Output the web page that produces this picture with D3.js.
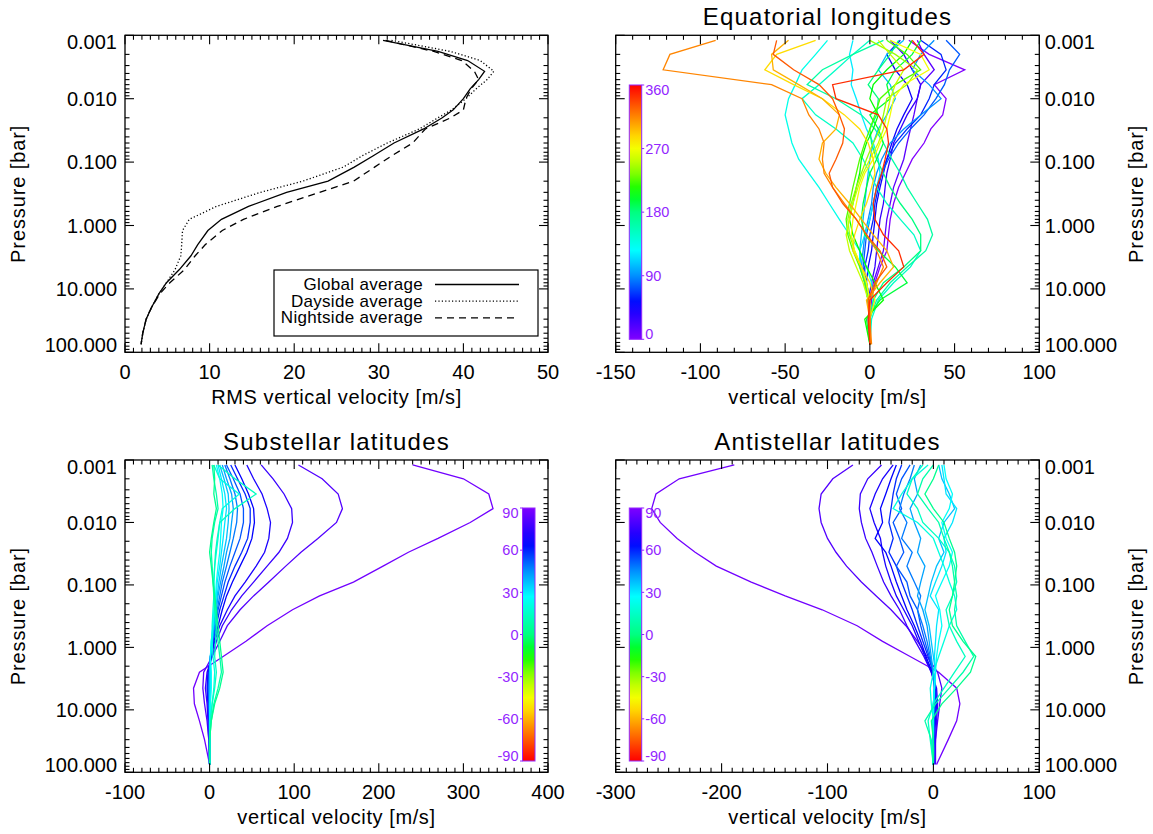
<!DOCTYPE html>
<html>
<head>
<meta charset="utf-8">
<script src="https://cdn.jsdelivr.net/npm/d3@7"></script>
<style>
  body { margin: 0; background: #fff; }
  svg { display: block; font-family: "Liberation Sans", Arial, Helvetica, sans-serif; }
</style>
</head>
<body>
<svg id="chart" width="1153" height="834"></svg>
<script>
// ----------------------------------------------------------
// Data
// ----------------------------------------------------------
const rmsLevels    = [0.0012, 0.0018, 0.0025, 0.0037, 0.005, 0.007, 0.01, 0.015, 0.02, 0.03, 0.05, 0.08, 0.12, 0.2, 0.3, 0.5, 0.8, 1.2, 2, 3, 5, 8, 12, 20, 30, 50, 75];
const globalRms    = [30.5, 37.0, 40.5, 42.5, 41.8, 40.8, 40.0, 38.8, 37.5, 35.3, 31.8, 29.3, 27.1, 24.0, 19.1, 14.6, 11.4, 9.8, 8.6, 7.8, 6.4, 4.9, 4.0, 3.1, 2.5, 2.1, 1.9];
const daysideRms   = [31.5, 38.5, 42.0, 43.6, 42.8, 41.5, 40.3, 38.6, 37.0, 34.8, 31.0, 28.0, 25.8, 21.0, 16.0, 10.8, 7.6, 6.8, 6.7, 6.6, 5.9, 4.9, 4.0, 3.1, 2.5, 2.1, 1.9];
const nightsideRms = [30.8, 36.5, 39.8, 41.3, 41.8, 40.9, 40.3, 40.0, 38.5, 35.5, 34.0, 31.5, 29.5, 27.0, 23.0, 18.0, 14.0, 11.5, 9.5, 8.3, 7.0, 5.3, 4.1, 3.1, 2.5, 2.1, 1.9];
const legendLabels = ["Global average", "Dayside average", "Nightside average"];

// pressure levels shared by the profile panels
const profileLevels = [0.0012, 0.002, 0.0035, 0.006, 0.01, 0.018, 0.03, 0.05, 0.09, 0.15, 0.25, 0.45, 0.8, 1.4, 2.5, 4.5, 8, 15, 30, 75];

const equatorLongitudes = [0, 15, 30, 45, 60, 75, 90, 105, 120, 135, 150, 165, 180, 195, 210, 225, 240, 255, 270, 285, 300, 315, 330, 345];
const equatorProfiles = [
  [23, 35, 56, 38, 45, 43, 36, 32, 25, 21, 17, 14, 12, 11, 10, 6, 3, 1, 0, 0],
  [28, 32, 38, 30, 28, 26, 24, 22, 20, 17, 14, 12, 10, 9, 8, 5, 2, 0, -1, 0],
  [12, 20, 25, 30, 28, 22, 18, 14, 12, 10, 9, 8, 6, 5, 4, 3, 1, -1, 0, 0],
  [18, 10, 15, 22, 25, 20, 16, 13, 10, 8, 6, 4, 3, 2, 1, -1, -2, 0, 0, 0],
  [30, 42, 45, 38, 35, 30, 22, 15, 10, 7, 5, 3, 2, 0, -1, -3, -3, -1, 0, 0],
  [45, 53, 47, 44, 39, 32, 24, 17, 11, 7, 4, 2, 0, -2, -3, -4, -2, 0, 0, 0],
  [38, 30, 25, 35, 42, 30, 20, 12, 7, 4, 2, 1, -1, -3, -4, -5, -3, -1, 0, 0],
  [20, 10, 5, 12, 15, 10, 5, 2, 0, -1, -2, -3, -4, -5, -6, -5, -3, -1, 0, 0],
  [-10, -12, -10, -11, -8, -5, -2, 2, 5, 6, 4, 2, 0, -3, -6, -6, -3, -1, 0, 0],
  [-25, -32, -40, -44, -48, -50, -48, -46, -42, -36, -30, -24, -18, -12, -6, -2, 1, 2, 0, 0],
  [0, -10, -20, -30, -40, -32, -20, -10, -4, 0, 4, 10, 18, 26, 30, 24, 14, 5, 1, 0],
  [8, -10, -28, -37, -20, -5, 3, 8, 13, 18, 22, 28, 34, 37, 33, 22, 12, 4, 0, 0],
  [17, 12, 5, -1, 5, 4, 0, 1, 4, 8, 12, 18, 25, 30, 30, 20, 8, 2, 0, 0],
  [30, 25, 15, 10, 12, 0, 5, 8, 4, 0, -2, -4, -5, -3, 5, 15, 22, 6, -2, 0],
  [25, 20, 10, 2, 0, 5, 2, -2, -5, -6, -8, -10, -12, -10, -6, -2, 3, 8, -3, 0],
  [10, 22, 30, 15, 6, 3, 0, -3, -6, -8, -10, -12, -14, -13, -10, -6, -3, -1, 0, 0],
  [0, 15, 28, 22, 10, 8, 6, 2, -2, -5, -8, -11, -13, -12, -9, -5, -2, 0, 0, 0],
  [5, 12, 20, 15, 12, 10, 8, 5, 0, -4, -7, -10, -12, -14, -12, -8, -4, -1, 0, 0],
  [12, 30, 35, 20, 14, 12, 10, 6, 2, -3, -6, -8, -10, -11, -9, -5, -2, 0, 0, 0],
  [-32, -55, -62, -45, -28, -15, -6, -1, 2, 3, 1, -2, -6, -9, -10, -5, 0, 3, 0, 0],
  [-48, -58, -57, -42, -28, -18, -20, -28, -30, -26, -20, -12, -5, 2, 10, 14, 6, -2, 0, 0],
  [-91, -118, -122, -58, -40, -36, -30, -27, -28, -27, -22, -15, -8, -2, 4, 8, 4, 0, 0, 1],
  [-55, -57, -45, -30, -22, -18, -15, -16, -20, -24, -22, -16, -8, -2, 6, 10, 3, -1, 0, 0],
  [25, 32, 20, -22, -20, 5, 10, 11, 9, 7, 4, 2, 3, 8, 17, 20, 10, 0, -1, 0]
];

const substellarLatitudes = [87, 81, 76, 70, 65, 59, 53, 48, 42, 37, 31, 26, 20, 14, 9, 3];
const substellarProfiles = [
  [240, 300, 330, 335, 308, 270, 235, 205, 170, 130, 98, 68, 43, 16, -12, -19, -18, -12, -6, 0],
  [105, 133, 152, 157, 150, 128, 108, 90, 70, 52, 36, 21, 12, 3, -7, -8, -6, -3, -1, 0],
  [61, 75, 88, 97, 98, 92, 82, 68, 52, 38, 26, 15, 8, 3, -3, -5, -3, -2, -1, 0],
  [44, 52, 62, 68, 72, 70, 65, 55, 42, 30, 21, 12, 6, 2, -2, -3, -2, -1, 0, 0],
  [30, 38, 46, 52, 53, 50, 44, 36, 27, 20, 15, 10, 5, 2, -1, -2, -1, 0, 0, 0],
  [25, 33, 42, 48, 48, 45, 38, 30, 22, 17, 12, 8, 4, 1, -1, -2, -1, 0, 0, 0],
  [20, 28, 36, 40, 40, 36, 30, 24, 18, 14, 10, 7, 4, 1, 0, -1, -1, 0, 0, 0],
  [18, 24, 30, 33, 32, 28, 24, 20, 15, 12, 9, 6, 3, 1, 0, -1, 0, 0, 0, 0],
  [15, 20, 26, 28, 26, 24, 20, 17, 13, 10, 8, 5, 3, 1, 0, 0, 0, 0, 0, 0],
  [12, 17, 22, 23, 22, 20, 17, 14, 11, 9, 7, 5, 3, 1, 0, 1, 0, 0, 0, 0],
  [10, 14, 18, 20, 18, 16, 14, 12, 9, 8, 6, 4, 2, 1, 1, 1, 0, 0, 0, 0],
  [8, 12, 15, 16, 14, 13, 12, 10, 8, 7, 5, 4, 2, 1, 2, 2, 1, 0, 0, 0],
  [5, 12, 35, 15, 12, 10, 8, 6, 5, 5, 4, 3, 3, 4, 6, 5, 3, 1, 0, 0],
  [10, 30, 55, 30, 12, 9, 7, 6, 5, 6, 7, 8, 7, 6, 8, 6, 3, 1, 0, 0],
  [3, 5, 8, 10, 6, 3, 2, 3, 4, 5, 6, 8, 10, 12, 14, 10, 5, 2, 0, 0],
  [5, 6, 5, 8, 5, 2, 0, 2, 4, 6, 8, 10, 12, 14, 16, 12, 6, 2, 0, 0]
];

const antistellarLatitudes = [87, 81, 76, 70, 65, 59, 53, 48, 42, 37, 31, 26, 20, 14, 9, 3];
const antistellarProfiles = [
  [-188, -240, -262, -266, -258, -242, -225, -205, -172, -140, -105, -72, -48, -22, 5, 22, 25, 22, 14, 3],
  [-76, -95, -106, -108, -106, -100, -92, -82, -68, -54, -40, -26, -15, -6, 4, 8, 6, 4, 2, 2],
  [-49, -62, -69, -70, -68, -64, -58, -53, -47, -40, -32, -25, -17, -9, -2, 3, 4, 3, 2, 1],
  [-38, -48, -55, -60, -56, -50, -48, -45, -40, -35, -28, -20, -14, -8, -2, 2, 3, 2, 1, 0],
  [-35, -40, -45, -50, -48, -55, -45, -40, -35, -30, -25, -18, -12, -7, -1, 2, 2, 1, 0, 0],
  [-30, -35, -38, -40, -42, -38, -42, -35, -30, -25, -20, -15, -10, -5, 0, 2, 2, 1, 0, 0],
  [-22, -30, -35, -30, -38, -32, -28, -35, -25, -22, -15, -12, -8, -4, 0, 1, 1, 0, 0, 0],
  [-18, -22, -28, -32, -25, -30, -20, -25, -18, -12, -15, -10, -6, -3, 0, 1, 1, 0, 0, 0],
  [-12, -18, -15, -22, -18, -12, -15, -8, -12, -15, -10, -6, -4, -2, 0, 1, 0, 0, 0, 0],
  [5, 8, 15, 20, 10, 5, 10, 3, -2, -5, -8, -4, -2, 0, 2, 1, 0, 0, 0, 0],
  [8, 10, 12, 22, 18, 10, 12, 8, 2, -3, 5, 3, 2, 1, 2, 1, 0, 0, 0, 0],
  [10, 12, 18, 15, 8, 12, 18, 15, 8, 2, 6, 8, 5, 3, 2, 1, 0, 0, 0, 0],
  [-5, -20, -30, -38, -15, 0, 5, 10, 15, 20, 22, 15, 10, 5, 0, -3, -2, 0, 0, 0],
  [-10, -20, -25, -15, -10, 5, 15, 20, 22, 18, 12, 15, 22, 30, 20, 10, 0, -5, -3, 0],
  [0, -10, -15, -5, 5, 10, 15, 18, 20, 22, 20, 22, 30, 38, 28, 15, 2, -8, -2, 0],
  [5, 0, -8, 0, 10, 15, 20, 22, 20, 18, 15, 18, 28, 40, 35, 22, 8, -2, 0, 0]
];

// axis ticks
const pressureTicks      = [0.001, 0.01, 0.1, 1, 10, 100];
const pressureTickLabels = ["0.001", "0.010", "0.100", "1.000", "10.000", "100.000"];
const longitudeTicks     = [0, 90, 180, 270, 360];
const latitudeTicks      = [90, 60, 30, 0, -30, -60, -90];

// ----------------------------------------------------------
// Shared helpers
// ----------------------------------------------------------
const svg = d3.select("#chart");
const cbPurple = "#9326ff";

// IDL-like rainbow, 0 = purple ... 1 = red
const rainbow = d3.scaleLinear()
  .domain([0, 0.14, 0.25, 0.35, 0.5, 0.58, 0.67, 0.76, 0.88, 1])
  .range(["#8000ff", "#0000ff", "#0090ff", "#00ffff", "#00ff80", "#00ff00", "#a0ff00", "#ffff00", "#ff8000", "#ff0000"])
  .interpolate(d3.interpolateRgb);

const panels = [
  { key: "rms",   x0: 125,   x1: 548,    y0: 35.3, y1: 352.3, xDomain: [0, 50],     major: 10,  minor: 1,  side: "left",
    xTitle: "RMS vertical velocity [m/s]", title: null },
  { key: "eq",    x0: 615.7, x1: 1039.3, y0: 35.3, y1: 352.3, xDomain: [-150, 100], major: 50,  minor: 10, side: "right",
    xTitle: "vertical velocity [m/s]", title: "Equatorial longitudes" },
  { key: "sub",   x0: 125,   x1: 548,    y0: 460,  y1: 772.3, xDomain: [-100, 400], major: 100, minor: 10, side: "left",
    xTitle: "vertical velocity [m/s]", title: "Substellar latitudes" },
  { key: "anti",  x0: 615.7, x1: 1039.3, y0: 460,  y1: 772.3, xDomain: [-300, 100], major: 100, minor: 10, side: "right",
    xTitle: "vertical velocity [m/s]", title: "Antistellar latitudes" }
];

function tick(g, x1, y1, x2, y2) {
  g.append("line")
    .attr("x1", x1).attr("y1", y1).attr("x2", x2).attr("y2", y2)
    .attr("stroke", "#000").attr("stroke-width", 1.1);
}

function drawFrame(p, x, y) {
  const g = svg.append("g").attr("class", "frame");

  g.append("rect")
    .attr("x", p.x0).attr("y", p.y0)
    .attr("width", p.x1 - p.x0).attr("height", p.y1 - p.y0)
    .attr("fill", "none").attr("stroke", "#000").attr("stroke-width", 1.3);

  // x ticks (top + bottom, inward)
  const [d0, d1] = p.xDomain;
  const isMajor = v => Math.abs(v / p.major - Math.round(v / p.major)) < 1e-6;
  d3.range(d0, d1 + 1e-6, p.minor).forEach(v => {
    const len = isMajor(v) ? 9 : 4.5;
    tick(g, x(v), p.y1, x(v), p.y1 - len);
    tick(g, x(v), p.y0, x(v), p.y0 + len);
  });

  d3.range(d0, d1 + 1e-6, p.major).forEach(v => {
    g.append("text")
      .attr("x", x(v)).attr("y", p.y1 + 27)
      .attr("text-anchor", "middle")
      .attr("font-size", 20)
      .text(String(v));
  });

  // log y ticks (left + right, inward)
  pressureTicks.forEach(dec => {
    tick(g, p.x0, y(dec), p.x0 + 9, y(dec));
    tick(g, p.x1, y(dec), p.x1 - 9, y(dec));
    if (dec >= 100) return;
    for (let k = 2; k <= 9; k++) {
      const v = dec * k;
      tick(g, p.x0, y(v), p.x0 + 4.5, y(v));
      tick(g, p.x1, y(v), p.x1 - 4.5, y(v));
    }
  });

  const left = p.side === "left";
  pressureTicks.forEach((dec, i) => {
    const yy = Math.max(p.y0 + 6.5, Math.min(p.y1 - 8, y(dec)));
    g.append("text")
      .attr("x", left ? p.x0 - 8 : p.x1 + 5.5)
      .attr("y", yy)
      .attr("dy", "0.36em")
      .attr("text-anchor", left ? "end" : "start")
      .attr("font-size", 20)
      .text(pressureTickLabels[i]);
  });

  // axis titles
  const midY = (p.y0 + p.y1) / 2;
  const ty = left ? 25 : 1143;
  g.append("text")
    .attr("transform", `translate(${ty},${midY}) rotate(-90)`)
    .attr("text-anchor", "middle")
    .attr("font-size", 20)
    .attr("letter-spacing", 0.9)
    .text("Pressure [bar]");

  g.append("text")
    .attr("x", (p.x0 + p.x1) / 2).attr("y", p.y1 + 52)
    .attr("text-anchor", "middle")
    .attr("font-size", 20)
    .attr("letter-spacing", 0.6)
    .text(p.xTitle);

  if (p.title) {
    g.append("text")
      .attr("x", (p.x0 + p.x1) / 2).attr("y", p.y0 - 10)
      .attr("text-anchor", "middle")
      .attr("font-size", 24)
      .attr("letter-spacing", 1.2)
      .text(p.title);
  }
}

function drawProfiles(g, x, y, levels, profiles, colorOf) {
  const line = d3.line()
    .x(d => x(d[0]))
    .y(d => y(d[1]));

  profiles.forEach((vals, i) => {
    g.append("path")
      .datum(vals.map((v, j) => [v, levels[j]]))
      .attr("fill", "none")
      .attr("stroke", colorOf(i))
      .attr("stroke-width", 1.3)
      .attr("d", line);
  });
}

// colour bar: box, gradient, purple labels
function drawColorbar(id, box, domain, ticks, labelSide, purpleAtTop) {
  const grad = svg.append("defs").append("linearGradient")
    .attr("id", id)
    .attr("x1", 0).attr("x2", 0)
    .attr("y1", purpleAtTop ? 0 : 1)
    .attr("y2", purpleAtTop ? 1 : 0);
  d3.range(0, 1.0001, 0.05).forEach(t => {
    grad.append("stop").attr("offset", t).attr("stop-color", rainbow(t));
  });

  const cy = d3.scaleLinear().domain(domain).range([box.y1, box.y0]);

  svg.append("rect")
    .attr("x", box.x0).attr("y", box.y0)
    .attr("width", box.x1 - box.x0).attr("height", box.y1 - box.y0)
    .attr("fill", `url(#${id})`)
    .attr("stroke", cbPurple).attr("stroke-width", 1);

  ticks.forEach(v => {
    const yy = cy(v);
    const xe = labelSide === "right" ? box.x1 : box.x0;
    const dir = labelSide === "right" ? 1 : -1;
    svg.append("line")
      .attr("x1", xe).attr("x2", xe + dir * 2.5)
      .attr("y1", yy).attr("y2", yy)
      .attr("stroke", cbPurple).attr("stroke-width", 1);
    svg.append("text")
      .attr("x", labelSide === "right" ? box.x1 + 3.5 : box.x0 - 4)
      .attr("y", Math.max(box.y0 + 4.3, Math.min(box.y1 - 5.3, yy)))
      .attr("dy", "0.36em")
      .attr("text-anchor", labelSide === "right" ? "start" : "end")
      .attr("font-size", 14.5)
      .attr("fill", cbPurple)
      .text(String(v));
  });
}

// ----------------------------------------------------------
// Panels
// ----------------------------------------------------------
panels.forEach(p => {
  const x = d3.scaleLinear().domain(p.xDomain).range([p.x0, p.x1]);
  const y = d3.scaleLog().domain([0.001, 100]).range([p.y0, p.y1]);
  const g = svg.append("g").attr("class", `panel-${p.key}`);

  if (p.key === "rms") {
    const series = [
      { vals: globalRms,    dash: null },
      { vals: daysideRms,   dash: "1.2,2.2" },
      { vals: nightsideRms, dash: "7,5" }
    ];
    const line = d3.line().x(d => x(d[0])).y(d => y(d[1]));
    series.forEach(s => {
      g.append("path")
        .datum(s.vals.map((v, j) => [v, rmsLevels[j]]))
        .attr("fill", "none")
        .attr("stroke", "#000")
        .attr("stroke-width", 1.3)
        .attr("stroke-dasharray", s.dash)
        .attr("d", line);
    });

    // legend
    const lg = g.append("g").attr("class", "legend");
    lg.append("rect")
      .attr("x", 274).attr("y", 270).attr("width", 264).attr("height", 66)
      .attr("fill", "none").attr("stroke", "#000").attr("stroke-width", 1.2);
    legendLabels.forEach((lab, i) => {
      const by = 290 + i * 16.7;
      lg.append("text")
        .attr("x", 423).attr("y", by)
        .attr("text-anchor", "end")
        .attr("font-size", 17)
        .attr("letter-spacing", 0.3)
        .text(lab);
      lg.append("line")
        .attr("x1", 435).attr("x2", 519)
        .attr("y1", by - 5.5).attr("y2", by - 5.5)
        .attr("stroke", "#000").attr("stroke-width", 1.3)
        .attr("stroke-dasharray", series[i].dash);
    });
  }

  if (p.key === "eq") {
    drawProfiles(g, x, y, profileLevels, equatorProfiles, i => rainbow(equatorLongitudes[i] / 360));
  }
  if (p.key === "sub") {
    drawProfiles(g, x, y, profileLevels, substellarProfiles, i => rainbow((90 - substellarLatitudes[i]) / 180));
  }
  if (p.key === "anti") {
    drawProfiles(g, x, y, profileLevels, antistellarProfiles, i => rainbow((90 - antistellarLatitudes[i]) / 180));
  }

  drawFrame(p, x, y);
});

drawColorbar("cb-eq",   { x0: 629.3, x1: 641.7, y0: 85,  y1: 339.3 }, [0, 360],  longitudeTicks, "right", false);
drawColorbar("cb-sub",  { x0: 522.5, x1: 535,   y0: 508, y1: 761 },   [-90, 90], latitudeTicks,  "left",  true);
drawColorbar("cb-anti", { x0: 629.3, x1: 641.7, y0: 508, y1: 761 },   [-90, 90], latitudeTicks,  "right", true);
</script>
</body>
</html>
